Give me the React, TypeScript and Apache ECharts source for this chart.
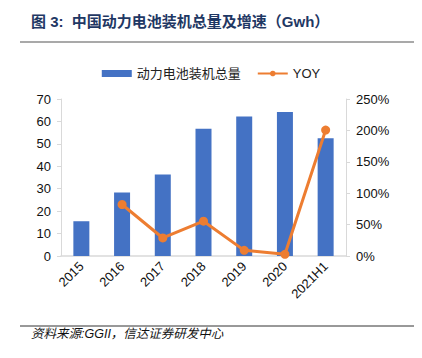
import React, { useEffect, useRef } from "react";
import * as echarts from "echarts";

const categories = ["2015", "2016", "2017", "2018", "2019", "2020", "2021H1"];
const installed = [15.5, 28.3, 36.3, 56.7, 62.2, 64.2, 52.5];
const yoy: (number | null)[] = [null, 82, 28.7, 55.4, 9, 2.7, 200.5];
const leftTicks = { min: 0, max: 70, interval: 10 };
const rightTicks = { min: 0, max: 250, interval: 50 };

const FONT = "'Liberation Sans', 'Noto Sans CJK SC', sans-serif";

export default function App() {
  const ref = useRef<HTMLDivElement>(null);
  useEffect(() => {
    if (!ref.current) return;
    const chart = echarts.init(ref.current, null, { renderer: "svg" });
    chart.setOption({
      animation: false,
      textStyle: { fontFamily: FONT },
      graphic: [
        {
          type: "text",
          left: 31,
          top: 14,
          style: {
            text: "图 3:  中国动力电池装机总量及增速（Gwh）",
            font: "bold 15px 'Liberation Sans', 'Noto Sans CJK SC', sans-serif",
            fill: "#1F3864",
          },
        },
        {
          type: "line",
          shape: { x1: 20, y1: 42, x2: 416, y2: 42 },
          style: { stroke: "#555", lineWidth: 1.2 },
        },
        {
          type: "line",
          shape: { x1: 20, y1: 326, x2: 416, y2: 326 },
          style: { stroke: "#333", lineWidth: 1 },
        },
        {
          type: "text",
          left: 31,
          top: 328,
          style: {
            text: "资料来源:GGII，信达证券研发中心",
            font: "italic 12.5px 'Liberation Sans', 'Noto Sans CJK SC', sans-serif",
            fill: "#111",
          },
        },
      ],
      legend: {
        top: 62,
        left: "center",
        itemGap: 16,
        itemWidth: 30,
        itemHeight: 7,
        textStyle: { fontSize: 13, color: "#222", fontFamily: FONT },
        data: [
          { name: "动力电池装机总量", icon: "rect" },
          { name: "YOY" },
        ],
      },
      grid: { left: 61, right: 76, top: 99, bottom: 102, containLabel: false },
      xAxis: {
        type: "category",
        data: categories,
        axisLine: { lineStyle: { color: "#d9d9d9", width: 1.5 } },
        axisTick: { show: false },
        axisLabel: {
          rotate: 45,
          interval: 0,
          color: "#111",
          fontSize: 13,
          margin: 8,
          fontFamily: FONT,
        },
      },
      yAxis: [
        {
          type: "value",
          ...leftTicks,
          axisLine: { show: true, lineStyle: { color: "#d9d9d9" } },
          axisTick: { show: true, length: 4, lineStyle: { color: "#d9d9d9" } },
          splitLine: { show: false },
          axisLabel: { color: "#111", fontSize: 13, margin: 10, fontFamily: FONT },
        },
        {
          type: "value",
          ...rightTicks,
          position: "right",
          axisLine: { show: true, lineStyle: { color: "#d9d9d9" } },
          axisTick: { show: true, length: 4, lineStyle: { color: "#d9d9d9" } },
          splitLine: { show: false },
          axisLabel: {
            color: "#111",
            fontSize: 13,
            margin: 10,
            fontFamily: FONT,
            formatter: (v: number) => v + "%",
          },
        },
      ],
      series: [
        {
          name: "动力电池装机总量",
          type: "bar",
          data: installed,
          barWidth: 16,
          itemStyle: { color: "#4472C4" },
        },
        {
          name: "YOY",
          type: "line",
          yAxisIndex: 1,
          data: yoy,
          symbol: "circle",
          symbolSize: 9,
          lineStyle: { color: "#ED7D31", width: 3 },
          itemStyle: { color: "#ED7D31" },
        },
      ],
    });
    return () => chart.dispose();
  }, []);
  return <div ref={ref} style={{ width: 422, height: 358, margin: -8 }} />;
}
